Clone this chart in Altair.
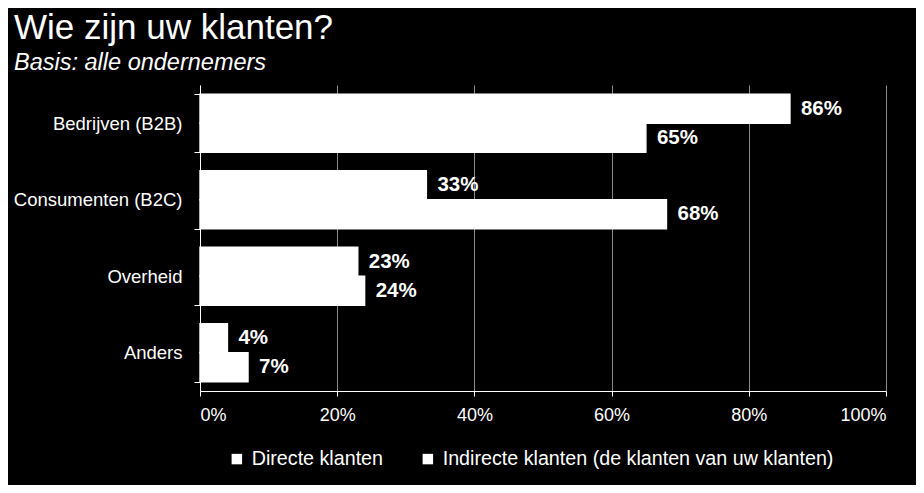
import altair as alt
import pandas as pd

categories = ["Bedrijven (B2B)", "Consumenten (B2C)", "Overheid", "Anders"]
series_names = ["Directe klanten", "Indirecte klanten (de klanten van uw klanten)"]
directe = [86, 33, 23, 4]
indirecte = [65, 68, 24, 7]

rows = []
for c, d, i in zip(categories, directe, indirecte):
    rows.append({"cat": c, "series": series_names[0], "value": d / 100})
    rows.append({"cat": c, "series": series_names[1], "value": i / 100})
df = pd.DataFrame(rows)

FONT = "Liberation Sans"

y_enc = alt.Y("cat:N", sort=categories, title=None,
              scale=alt.Scale(paddingInner=0.24, paddingOuter=0.12),
              axis=alt.Axis(labelFontSize=18.5, labelColor="white", labelFont=FONT,
                            domainColor="white", tickColor="white", tickSize=6,
                            labelPadding=12, tickBand="extent", grid=False))
x_enc = alt.X("value:Q", title=None,
              scale=alt.Scale(domain=[0, 1], nice=False),
              axis=alt.Axis(format=".0%", values=[0, 0.2, 0.4, 0.6, 0.8, 1.0],
                            labelFontSize=18, labelColor="white", labelFont=FONT,
                            domainColor="white", tickColor="white", tickSize=5,
                            labelPadding=10, grid=True, gridColor="#8a8a8a",
                            gridWidth=1))
yoff = alt.YOffset("series:N", sort=series_names)

bars = alt.Chart(df).mark_bar(color="white", stroke="white", strokeWidth=1.4).encode(
    x=x_enc,
    y=y_enc,
    yOffset=yoff,
    color=alt.Color("series:N", sort=series_names,
                    scale=alt.Scale(domain=series_names, range=["white", "white"]),
                    legend=alt.Legend(title=None, orient="none", direction="horizontal",
                                      legendX=27, legendY=364, padding=0,
                                      symbolType="square", symbolSize=110,
                                      symbolStrokeWidth=0,
                                      labelColor="white", labelFontSize=19.7,
                                      labelFont=FONT, labelLimit=600,
                                      columnPadding=34, labelOffset=5)),
)

labels = alt.Chart(df).mark_text(align="left", baseline="middle", dx=11,
                                 fontSize=20.5, fontWeight="bold", color="white",
                                 font=FONT).encode(
    x="value:Q",
    y=alt.Y("cat:N", sort=categories),
    yOffset=yoff,
    text=alt.Text("value:Q", format=".0%"),
)

chart = alt.layer(bars, labels).properties(
    width=686, height=306,
    background="black",
    padding={"left": 192, "top": 77, "right": 30, "bottom": 94},
    autosize=alt.AutoSizeParams(type="none"),
    title=alt.TitleParams(
        text="Wie zijn uw klanten?",
        subtitle="Basis: alle ondernemers",
        anchor="start", frame="group", dx=-186, offset=2,
        font=FONT, fontSize=35, fontWeight="normal", color="white",
        subtitleFont=FONT, subtitleFontSize=23.5, subtitleFontStyle="italic",
        subtitleColor="white", subtitlePadding=5,
    ),
).configure_view(stroke=None)

chart.save("out.html", embed_options={"renderer": "svg", "actions": False})
